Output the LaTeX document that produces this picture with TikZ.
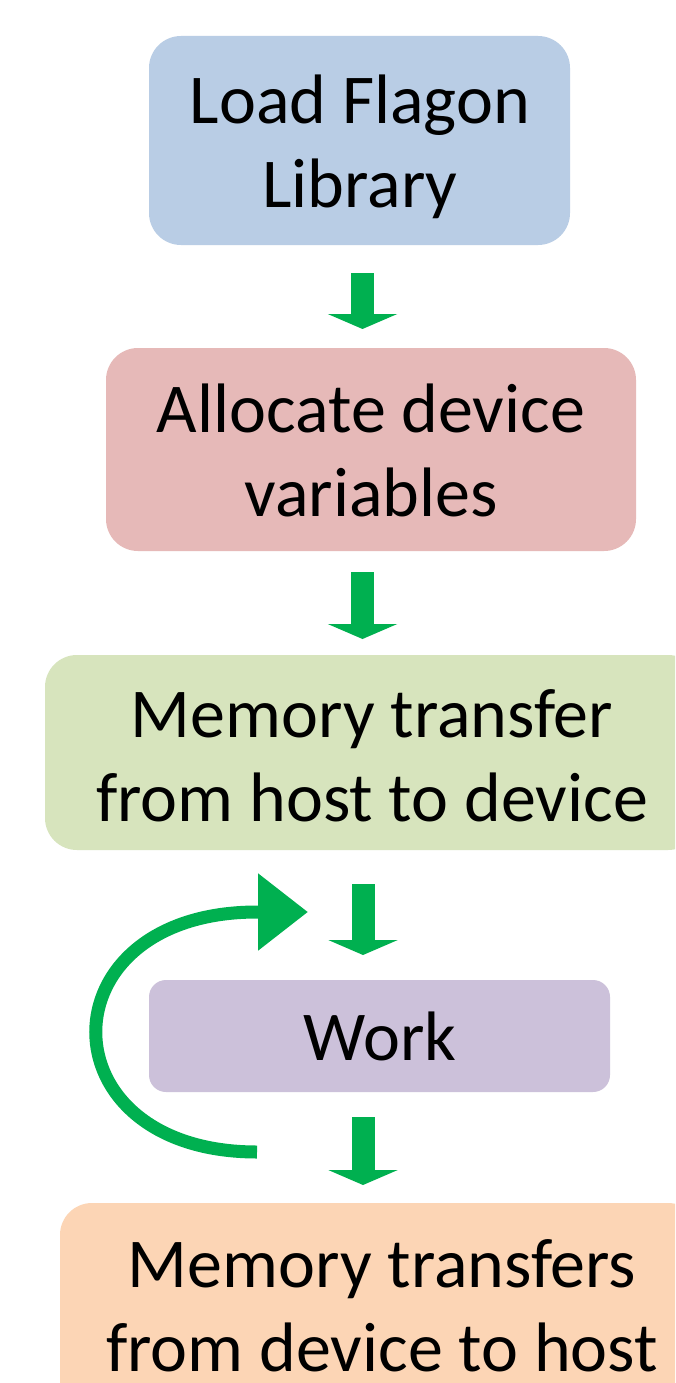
\documentclass[tikz,border=0pt]{standalone}
\usepackage{fontspec}
\setmainfont{Carlito}
\usetikzlibrary{arrows.meta}
\definecolor{cblue}{HTML}{B9CDE5}
\definecolor{cred}{HTML}{E6B9B8}
\definecolor{cgreen}{HTML}{D7E4BD}
\definecolor{cpurple}{HTML}{CCC1DA}
\definecolor{corange}{HTML}{FCD5B5}
\definecolor{carrow}{HTML}{00B050}
\tikzset{
  box/.style={rectangle, rounded corners=32pt, draw=none, inner sep=0pt, outer sep=0pt},
  label text/.style={align=center, inner sep=0pt, font=\fontsize{70}{84}\selectfont, text=black},
  downarrow/.style={draw=carrow, line width=23pt, -{Triangle[length=15pt,width=69pt]}},
  looparrow/.style={draw=carrow, line width=13pt, -{Triangle[length=50pt,width=74pt]}}
}
\begin{document}
\begin{tikzpicture}[x=1pt,y=-1pt]
\useasboundingbox (0,0) rectangle (675,1383);
\clip (0,0) rectangle (675,1383);
\fill[white] (0,0) rectangle (675,1383);
% boxes
\node[box, fill=cblue, minimum width=421pt, minimum height=209pt] (b1) at (359.5,140.5) {};
\node[box, fill=cred, minimum width=530pt, minimum height=203pt] (b2) at (371,449.5) {};
\node[box, fill=cgreen, minimum width=655pt, minimum height=195pt] (b3) at (372.5,752.5) {};
\node[box, fill=cpurple, rounded corners=17pt, minimum width=461pt, minimum height=112pt] (b4) at (379.5,1036) {};
\node[box, fill=corange, minimum width=640pt, minimum height=217pt] (b5) at (380,1311.5) {};
% texts
\node[label text] (t1) at (360,147) {Load Flagon\\Library};
\node[label text] (t2) at (371,450) {Allocate device\\variables};
\node[label text] (t3) at (372,756) {Memory transfer\\from host to device};
\node[label text] (t4) at (380,1036) {Work};
\node[label text] (t5) at (382,1306) {Memory transfers\\from device to host};
% arrow end points
\coordinate (a1s) at (362.5,273);
\coordinate (a1e) at (362.5,329);
\coordinate (a2s) at (362.5,572);
\coordinate (a2e) at (362.5,639);
\coordinate (a3s) at (363,884);
\coordinate (a3e) at (363,955);
\coordinate (a4s) at (363,1117);
\coordinate (a4e) at (363,1185);
\draw[downarrow] (a1s) -- (a1e);
\draw[downarrow] (a2s) -- (a2e);
\draw[downarrow] (a3s) -- (a3e);
\draw[downarrow] (a4s) -- (a4e);
% loop arrow
\coordinate (ls) at (257,1152);
\coordinate (lm) at (257,912);
\coordinate (le) at (308,912);
\draw[looparrow] (ls) .. controls (42,1152) and (42,912) .. (lm) -- (le);
\end{tikzpicture}
\end{document}
